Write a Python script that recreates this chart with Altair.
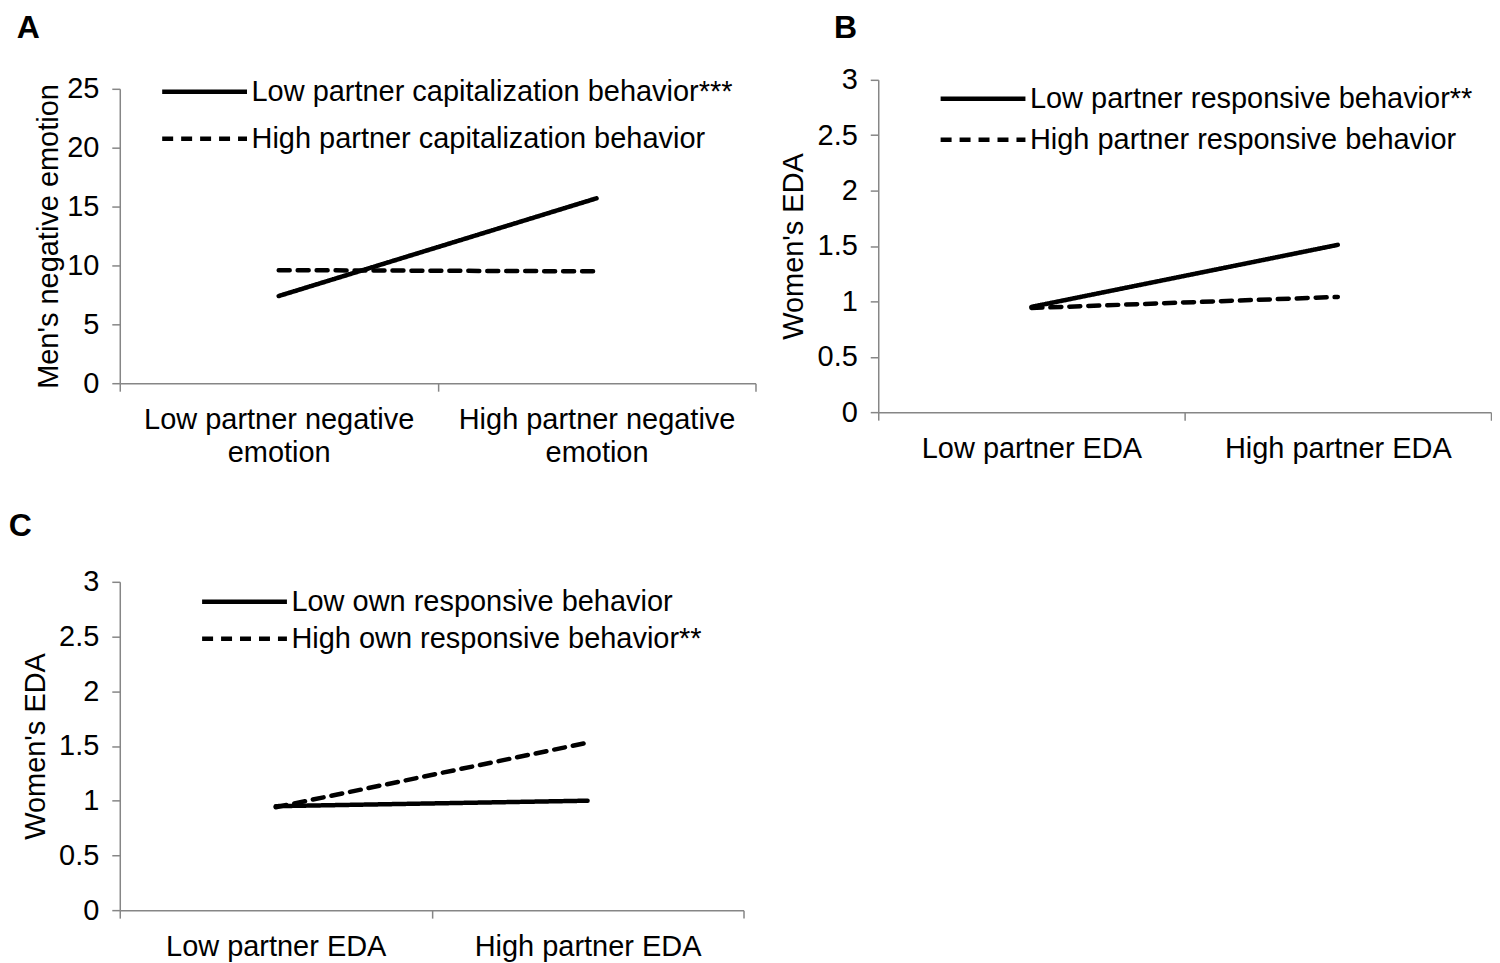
import altair as alt
import pandas as pd

FONT = "Liberation Sans"
GRAY = "#868686"
FS = 29

# Panel A
a_cats = ["Low partner negative emotion", "High partner negative emotion"]
a_series = ["Low partner capitalization behavior***", "High partner capitalization behavior"]
a_low = [7.4, 15.7]
a_high = [9.6, 9.5]
a_yticks = [0, 5, 10, 15, 20, 25]

# Panel B
b_cats = ["Low partner EDA", "High partner EDA"]
b_series = ["Low partner responsive behavior**", "High partner responsive behavior"]
b_low = [0.95, 1.51]
b_high = [0.94, 1.04]

# Panel C
c_cats = ["Low partner EDA", "High partner EDA"]
c_series = ["Low own responsive behavior", "High own responsive behavior**"]
c_low = [0.95, 1.00]
c_high = [0.94, 1.53]

eda_yticks = [0, 0.5, 1, 1.5, 2, 2.5, 3]


def frame(cats, series, low, high):
    rows = []
    for c, v in zip(cats, low):
        rows.append({"cat": c, "value": v, "series": series[0]})
    for c, v in zip(cats, high):
        rows.append({"cat": c, "value": v, "series": series[1]})
    return pd.DataFrame(rows)


def panel(df, cats, series, letter, ytitle, yticks, width, height,
          legend_x, legend_y, row_pad, title_pad, letter_dx, letter_offset,
          label_expr=None, top_gap=0):
    xa = dict(title=None, tickBand="extent", labelAngle=0, labelPadding=14,
              labelFontSize=FS, labelFont=FONT, labelColor="black",
              labelLineHeight=33, labelLimit=1000, domainColor=GRAY,
              domainWidth=1.5, tickColor=GRAY, tickWidth=1.5, tickSize=8,
              grid=False)
    if label_expr:
        xa["labelExpr"] = label_expr
    ya = alt.Axis(title=ytitle, values=yticks, format="~g", domainColor=GRAY,
                  domainWidth=1.5, tickColor=GRAY, tickWidth=1.5, tickSize=8,
                  labelFontSize=FS, labelFont=FONT, labelColor="black",
                  labelPadding=13, titleFontSize=FS, titleFont=FONT,
                  titleFontWeight="normal", titleColor="black",
                  titlePadding=title_pad, grid=False)
    yscale = dict(domain=[yticks[0], yticks[-1]], nice=False)
    if top_gap:
        yscale["range"] = [height, top_gap]
    return alt.Chart(df).mark_line(color="black", strokeWidth=4.5, strokeCap="round").encode(
        x=alt.X("cat:N", sort=cats,
                scale=alt.Scale(type="band", paddingInner=0, paddingOuter=0),
                axis=alt.Axis(**xa)),
        y=alt.Y("value:Q", scale=alt.Scale(**yscale), axis=ya),
        strokeDash=alt.StrokeDash(
            "series:N",
            scale=alt.Scale(domain=series, range=[[1, 0], [11, 8]]),
            legend=alt.Legend(orient="none", legendX=legend_x, legendY=legend_y,
                              title=None, symbolType="stroke", symbolSize=7225,
                              symbolStrokeWidth=4.5, symbolStrokeColor="black",
                              labelFontSize=FS, labelFont=FONT, labelColor="black",
                              labelLimit=1000, labelOffset=2, clipHeight=28,
                              rowPadding=row_pad, padding=0, symbolOffset=0)),
    ).properties(
        width=width, height=height,
        title=alt.TitleParams(letter, anchor="start", frame="bounds", fontSize=32,
                              fontWeight="bold", font=FONT, color="black",
                              dx=letter_dx, offset=letter_offset),
    )


A = panel(frame(a_cats, a_series, a_low, a_high), a_cats, a_series, "A",
          "Men's negative emotion", a_yticks, 637, 304,
          40, -2, 18, 3, -18, 30,
          label_expr="split(replace(datum.label, 'negative ', 'negative|'), '|')",
          top_gap=9)
B = panel(frame(b_cats, b_series, b_low, b_high), b_cats, b_series, "B",
          "Women's EDA", eda_yticks, 614, 333,
          60, 5, 12, 9, 55, 21)
C = panel(frame(c_cats, c_series, c_low, c_high), c_cats, c_series, "C",
          "Women's EDA", eda_yticks, 625, 329,
          80, 6, 8, 8, -13, 25)

chart = alt.concat(A, B, C, columns=2, align="none",
                   spacing={"row": 43, "column": 22}).resolve_scale(
    strokeDash="independent", x="independent", y="independent"
).resolve_legend(strokeDash="independent").properties(
    padding={"top": 3, "left": 0, "right": 0, "bottom": 0}, background="white"
).configure_view(stroke=None)

chart.save("out.html", embed_options={"renderer": "svg", "actions": False})
